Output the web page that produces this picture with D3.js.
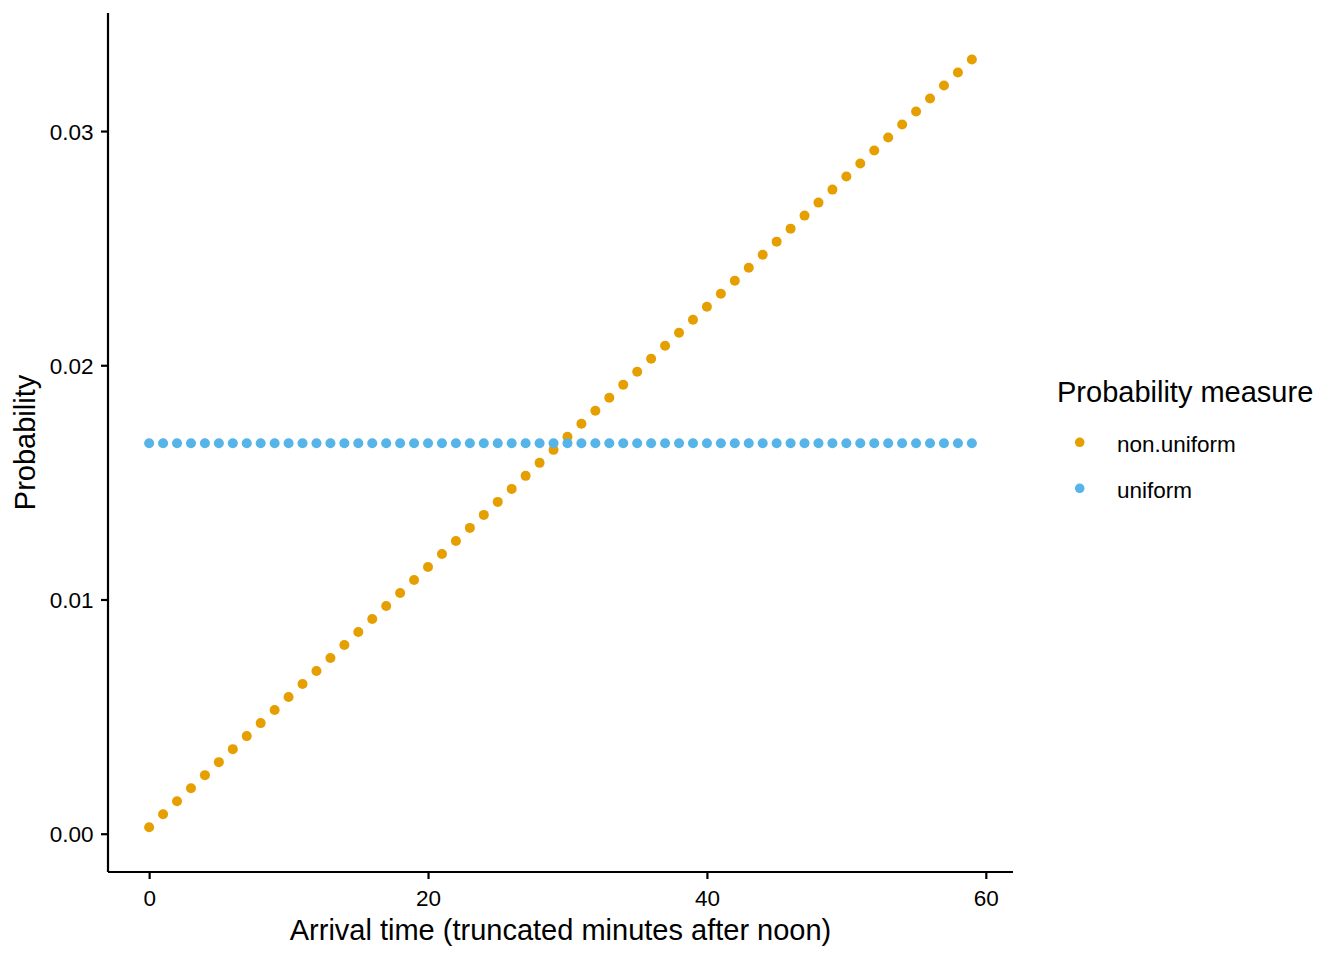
<!DOCTYPE html>
<html>
<head>
<meta charset="utf-8">
<script src="https://cdn.jsdelivr.net/npm/d3@7/dist/d3.min.js"></script>
<style>
  html, body { margin: 0; padding: 0; background: #fff; }
  svg { display: block; }
  text { font-family: "Liberation Sans", Arial, sans-serif; fill: #000; }
</style>
</head>
<body>
<script>
// ---- data ----
const minutes = [0,1,2,3,4,5,6,7,8,9,10,11,12,13,14,15,16,17,18,19,
                 20,21,22,23,24,25,26,27,28,29,30,31,32,33,34,35,36,37,38,39,
                 40,41,42,43,44,45,46,47,48,49,50,51,52,53,54,55,56,57,58,59];
const nonUniform = [0.000278,0.000833,0.001389,0.001944,0.002500,0.003056,0.003611,0.004167,0.004722,0.005278,
                    0.005833,0.006389,0.006944,0.007500,0.008056,0.008611,0.009167,0.009722,0.010278,0.010833,
                    0.011389,0.011944,0.012500,0.013056,0.013611,0.014167,0.014722,0.015278,0.015833,0.016389,
                    0.016944,0.017500,0.018056,0.018611,0.019167,0.019722,0.020278,0.020833,0.021389,0.021944,
                    0.022500,0.023056,0.023611,0.024167,0.024722,0.025278,0.025833,0.026389,0.026944,0.027500,
                    0.028056,0.028611,0.029167,0.029722,0.030278,0.030833,0.031389,0.031944,0.032500,0.033056];
const uniform = [0.016667,0.016667,0.016667,0.016667,0.016667,0.016667,0.016667,0.016667,0.016667,0.016667,
                 0.016667,0.016667,0.016667,0.016667,0.016667,0.016667,0.016667,0.016667,0.016667,0.016667,
                 0.016667,0.016667,0.016667,0.016667,0.016667,0.016667,0.016667,0.016667,0.016667,0.016667,
                 0.016667,0.016667,0.016667,0.016667,0.016667,0.016667,0.016667,0.016667,0.016667,0.016667,
                 0.016667,0.016667,0.016667,0.016667,0.016667,0.016667,0.016667,0.016667,0.016667,0.016667,
                 0.016667,0.016667,0.016667,0.016667,0.016667,0.016667,0.016667,0.016667,0.016667,0.016667];
const seriesNames = ["non.uniform", "uniform"];
const xTicks = [0, 20, 40, 60];
const yTicks = [0.00, 0.01, 0.02, 0.03];
const xTickLabels = ["0", "20", "40", "60"];
const yTickLabels = ["0.00", "0.01", "0.02", "0.03"];
const xTitle = "Arrival time (truncated minutes after noon)";
const yTitle = "Probability";
const legendTitle = "Probability measure";

// ---- layout ----
const W = 1344, H = 960;
const panel = { left: 108, right: 1013, top: 13, bottom: 872 };
const colors = { "non.uniform": "#E69F00", "uniform": "#56B4E9" };
const R = 5;
const tickFont = 22.5, titleFont = 29;

const svg = d3.select("body").append("svg").attr("width", W).attr("height", H);

const x = d3.scaleLinear().domain([-2.95, 61.95]).range([panel.left, panel.right]);
const y = d3.scaleLinear().domain([-0.001635, 0.03504]).range([panel.bottom, panel.top]);

// points
const series = [
  { name: "non.uniform", values: nonUniform },
  { name: "uniform", values: uniform }
];
series.forEach(s => {
  svg.append("g").selectAll("circle")
    .data(minutes.map((m, i) => ({ m, v: s.values[i] })))
    .join("circle")
    .attr("cx", d => x(d.m))
    .attr("cy", d => y(d.v))
    .attr("r", R)
    .attr("fill", colors[s.name]);
});

// axes
const xAxis = d3.axisBottom(x).tickValues(xTicks).tickFormat((d, i) => xTickLabels[i]).tickSize(7).tickSizeOuter(0);
const yAxis = d3.axisLeft(y).tickValues(yTicks).tickFormat((d, i) => yTickLabels[i]).tickSize(7).tickSizeOuter(0);

const gx = svg.append("g").attr("transform", `translate(0,${panel.bottom})`).call(xAxis);
gx.select(".domain").remove();
gx.append("line").attr("x1", panel.left).attr("x2", panel.right).attr("y1", 0).attr("y2", 0)
  .attr("stroke", "#000").attr("stroke-width", 2.2);
gx.selectAll(".tick line").attr("stroke", "#000").attr("stroke-width", 2.2);
gx.selectAll(".tick text").attr("font-size", tickFont).attr("fill", "#000")
  .attr("font-family", "Liberation Sans, Arial, sans-serif")
  .attr("y", 33.5).attr("dy", 0);

const gy = svg.append("g").attr("transform", `translate(${panel.left},0)`).call(yAxis);
gy.select(".domain").remove();
gy.append("line").attr("x1", 0).attr("x2", 0).attr("y1", panel.top).attr("y2", panel.bottom)
  .attr("stroke", "#000").attr("stroke-width", 2.2);
gy.selectAll(".tick line").attr("stroke", "#000").attr("stroke-width", 2.2);
gy.selectAll(".tick text").attr("font-size", tickFont).attr("fill", "#000")
  .attr("font-family", "Liberation Sans, Arial, sans-serif")
  .attr("x", -14.5).attr("dy", 0).attr("y", 8.2);

// axis titles
svg.append("text")
  .attr("x", (panel.left + panel.right) / 2).attr("y", 939.5)
  .attr("text-anchor", "middle").attr("font-size", titleFont)
  .text(xTitle);
svg.append("text")
  .attr("transform", `translate(35,${(panel.top + panel.bottom) / 2}) rotate(-90)`)
  .attr("text-anchor", "middle").attr("font-size", titleFont)
  .text(yTitle);

// legend
const lg = svg.append("g");
lg.append("text").attr("x", 1057).attr("y", 401.5).attr("font-size", titleFont).text(legendTitle);
seriesNames.forEach((n, i) => {
  const cy = 442.3 + i * 46;
  lg.append("circle").attr("cx", 1079.7).attr("cy", cy).attr("r", 4.8).attr("fill", colors[n]);
  lg.append("text").attr("x", 1117).attr("y", cy + 9.4).attr("font-size", tickFont).text(n);
});
</script>
</body>
</html>
